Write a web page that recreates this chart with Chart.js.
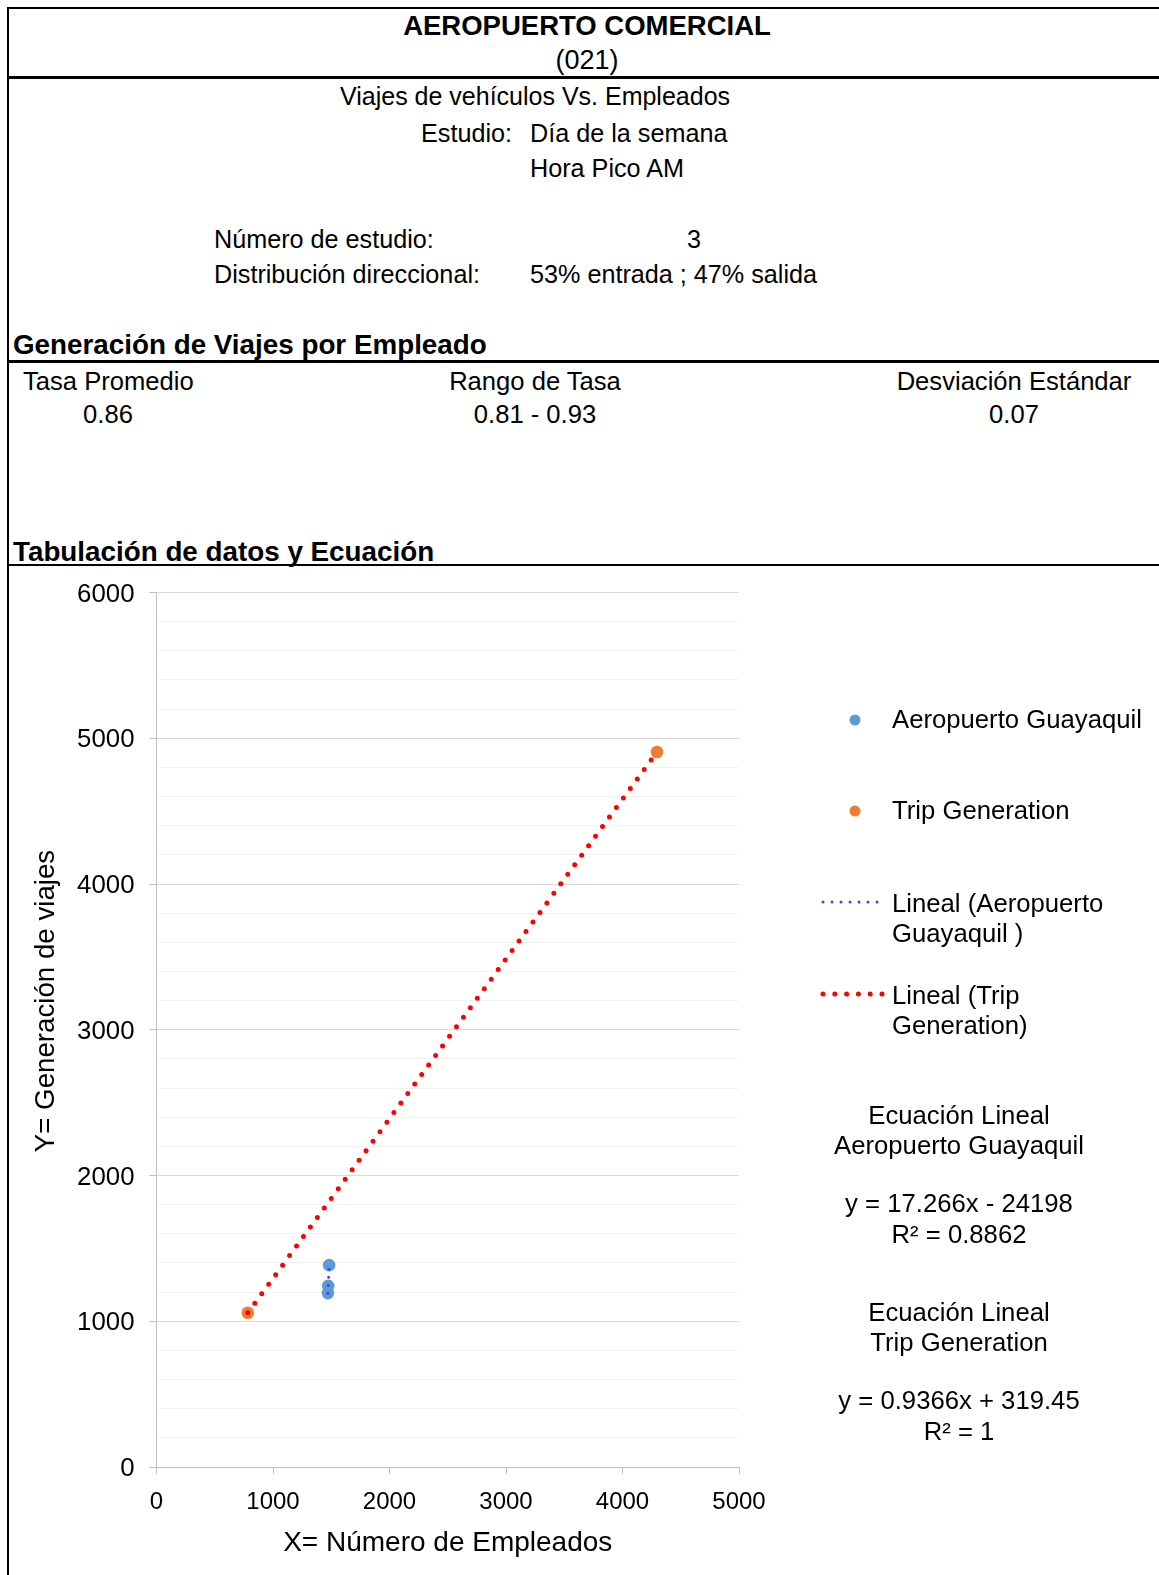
<!DOCTYPE html>
<html lang="es">
<head>
<meta charset="utf-8">
<title>Aeropuerto Comercial (021)</title>
<script src="https://cdn.jsdelivr.net/npm/chart.js@4.4.1/dist/chart.umd.min.js"></script>
<style>
html,body{margin:0;padding:0;background:#fff;}
body{width:1159px;height:1575px;position:relative;overflow:hidden;font-family:"Liberation Sans",Arial,sans-serif;color:#000;}
.t{position:absolute;white-space:nowrap;line-height:1;font-size:25.2px;}
.l{transform:translateY(-50%);}
.c{transform:translate(-50%,-50%);}
.b{font-weight:bold;font-size:27.8px;}
.m{font-size:25.6px;}
.g{font-size:25.7px;}
.hr{position:absolute;left:7px;right:0;background:#000;}
#frameLeft{position:absolute;left:7px;top:7px;width:2px;bottom:0;background:#000;}
#chartBox{position:absolute;left:10px;top:567px;width:790px;height:1008px;}
#ytitle{position:absolute;left:45px;top:1000.5px;font-size:27.7px;line-height:1;white-space:nowrap;transform:translate(-50%,-50%) rotate(-90deg);}
#legendMarks{position:absolute;left:0;top:0;}
.leg{line-height:30px;transform:translateY(-15px);}
</style>
</head>
<body>
<div id="frameLeft"></div>
<div class="hr" style="top:7px;height:2px;"></div>
<div class="hr" style="top:76px;height:3px;"></div>
<div class="hr" style="top:360px;height:3px;"></div>
<div class="hr" style="top:564px;height:2px;"></div>

<div class="t c b" style="left:587px;top:26px;font-size:27.5px;">AEROPUERTO COMERCIAL</div>
<div class="t c" style="left:587px;top:60px;font-size:27px;">(021)</div>
<div class="t l" style="left:340px;top:96px;font-size:25px;">Viajes de vehículos Vs. Empleados</div>
<div class="t l" style="left:421px;top:134px;">Estudio:</div>
<div class="t l" style="left:530px;top:134px;">Día de la semana</div>
<div class="t l" style="left:530px;top:169px;">Hora Pico AM</div>
<div class="t l" style="left:214px;top:240px;">Número de estudio:</div>
<div class="t c" style="left:694px;top:240px;">3</div>
<div class="t l" style="left:214px;top:275px;">Distribución direccional:</div>
<div class="t l" style="left:530px;top:275px;">53% entrada ; 47% salida</div>

<div class="t l b" style="left:13px;top:345px;">Generación de Viajes por Empleado</div>
<div class="t l m" style="left:23px;top:382px;">Tasa Promedio</div>
<div class="t c m" style="left:108px;top:415px;">0.86</div>
<div class="t c m" style="left:535px;top:382px;">Rango de Tasa</div>
<div class="t c m" style="left:535px;top:415px;">0.81 - 0.93</div>
<div class="t c m" style="left:1014px;top:382px;">Desviación Estándar</div>
<div class="t c m" style="left:1014px;top:415px;">0.07</div>
<div class="t l b" style="left:13px;top:552px;">Tabulación de datos y Ecuación</div>

<div id="chartBox"><canvas id="chart"></canvas></div>
<div id="ytitle">Y= Generación de viajes</div>

<svg id="legendMarks" width="1159" height="1575">
  <circle cx="855" cy="720" r="5.5" fill="#5b9bd5"/>
  <circle cx="855" cy="811" r="5.5" fill="#ed7d31"/>
  <line x1="823" y1="902" x2="878" y2="902" stroke="#4f3cff" stroke-width="3" stroke-linecap="round" stroke-dasharray="0 9"/>
  <line x1="823" y1="994" x2="884" y2="994" stroke="#ff0000" stroke-width="5" stroke-linecap="round" stroke-dasharray="0 11.8"/>
</svg>
<div class="t l g" style="left:892px;top:720px;">Aeropuerto Guayaquil</div>
<div class="t l g" style="left:892px;top:811px;">Trip Generation</div>
<div class="t leg g" style="left:892px;top:903px;">Lineal (Aeropuerto<br>Guayaquil )</div>
<div class="t leg g" style="left:892px;top:995px;">Lineal (Trip<br>Generation)</div>

<div class="t c g" style="left:959px;top:1116px;">Ecuación Lineal</div>
<div class="t c g" style="left:959px;top:1146px;">Aeropuerto Guayaquil</div>
<div class="t c g" style="left:959px;top:1204px;">y = 17.266x - 24198</div>
<div class="t c g" style="left:959px;top:1235px;">R² = 0.8862</div>
<div class="t c g" style="left:959px;top:1313px;">Ecuación Lineal</div>
<div class="t c g" style="left:959px;top:1343px;">Trip Generation</div>
<div class="t c g" style="left:959px;top:1401px;">y = 0.9366x + 319.45</div>
<div class="t c g" style="left:959px;top:1432px;">R² = 1</div>

<script>
// Employees (x) and AM peak vehicle trips (y) for each source
const guayaquilEmpleados = [1482, 1474, 1471];
const guayaquilViajes = [1385, 1243, 1193];
const tripGenEmpleados = [784, 4296];
const tripGenViajes = [1058, 4906];

// Axis tick labels
const xTickLabels = [0, 1000, 2000, 3000, 4000, 5000];
const yTickLabels = [0, 1000, 2000, 3000, 4000, 5000, 6000];

const FONT = '"Liberation Sans", Arial, sans-serif';

function toPoints(xs, ys) {
  return xs.map((x, i) => ({ x: x, y: ys[i] }));
}

// Least-squares line evaluated across the range of the series
function trendLine(xs, ys) {
  const n = xs.length;
  const mx = xs.reduce((a, b) => a + b, 0) / n;
  const my = ys.reduce((a, b) => a + b, 0) / n;
  let sxy = 0, sxx = 0;
  for (let i = 0; i < n; i++) {
    sxy += (xs[i] - mx) * (ys[i] - my);
    sxx += (xs[i] - mx) * (xs[i] - mx);
  }
  const m = sxy / sxx;
  const b = my - m * mx;
  const lo = Math.min(...xs), hi = Math.max(...xs);
  return [{ x: lo, y: m * lo + b }, { x: hi, y: m * hi + b }];
}

const isMajorY = v => yTickLabels.includes(v);

new Chart(document.getElementById('chart'), {
  type: 'scatter',
  data: {
    datasets: [
      {
        label: 'Lineal (Trip Generation)',
        data: trendLine(tripGenEmpleados, tripGenViajes),
        showLine: true,
        borderColor: '#ff0000',
        borderWidth: 5,
        borderDash: [0, 11.8],
        borderCapStyle: 'round',
        pointRadius: 0,
        fill: false
      },
      {
        label: 'Lineal (Aeropuerto Guayaquil )',
        data: trendLine(guayaquilEmpleados, guayaquilViajes),
        showLine: true,
        borderColor: '#4f3cff',
        borderWidth: 3,
        borderDash: [0, 8],
        borderCapStyle: 'round',
        pointRadius: 0,
        fill: false
      },
      {
        label: 'Aeropuerto Guayaquil',
        data: toPoints(guayaquilEmpleados, guayaquilViajes),
        backgroundColor: '#5b9bd5',
        borderWidth: 0,
        pointRadius: 6.3
      },
      {
        label: 'Trip Generation',
        data: toPoints(tripGenEmpleados, tripGenViajes),
        backgroundColor: '#ed7d31',
        borderWidth: 0,
        pointRadius: 6.3
      }
    ]
  },
  options: {
    responsive: true,
    maintainAspectRatio: false,
    animation: false,
    layout: { padding: { left: 0, top: 25.5, right: 61, bottom: 0 } },
    plugins: {
      legend: { display: false },
      tooltip: { enabled: false }
    },
    scales: {
      x: {
        type: 'linear',
        min: xTickLabels[0],
        max: xTickLabels[xTickLabels.length - 1],
        afterBuildTicks: s => { s.ticks = xTickLabels.map(v => ({ value: v })); },
        afterFit: s => { s.height = 108; },
        ticks: {
          color: '#000',
          font: { family: FONT, size: 24, lineHeight: 1.2 },
          padding: 13.5,
          maxRotation: 0,
          callback: v => String(v)
        },
        grid: {
          drawOnChartArea: false,
          drawTicks: true,
          tickLength: 7,
          tickColor: '#bfbfbf'
        },
        border: { display: true, color: '#bfbfbf', width: 1 },
        title: {
          display: true,
          text: 'X= Número de Empleados',
          color: '#000',
          font: { family: FONT, size: 28, lineHeight: 1.2 },
          padding: { top: 0, bottom: 15 }
        }
      },
      y: {
        type: 'linear',
        min: yTickLabels[0],
        max: yTickLabels[yTickLabels.length - 1],
        afterFit: s => { s.width = 146.5; s.paddingTop = 0; s.paddingBottom = 0; },
        ticks: {
          stepSize: 200,
          maxTicksLimit: 100,
          autoSkip: false,
          color: '#000',
          font: { family: FONT, size: 25.8, lineHeight: 1.2 },
          padding: 15,
          labelOffset: 2,
          callback: v => isMajorY(v) ? String(v) : ''
        },
        grid: {
          drawTicks: true,
          tickLength: 7,
          lineWidth: 1,
          color: c => isMajorY(c.tick.value) ? '#d9d9d9' : '#f2f2f2',
          tickColor: c => isMajorY(c.tick.value) ? '#bfbfbf' : 'rgba(0,0,0,0)'
        },
        border: { display: true, color: '#bfbfbf', width: 1 },
        title: { display: false }
      }
    }
  }
});
</script>
</body>
</html>
